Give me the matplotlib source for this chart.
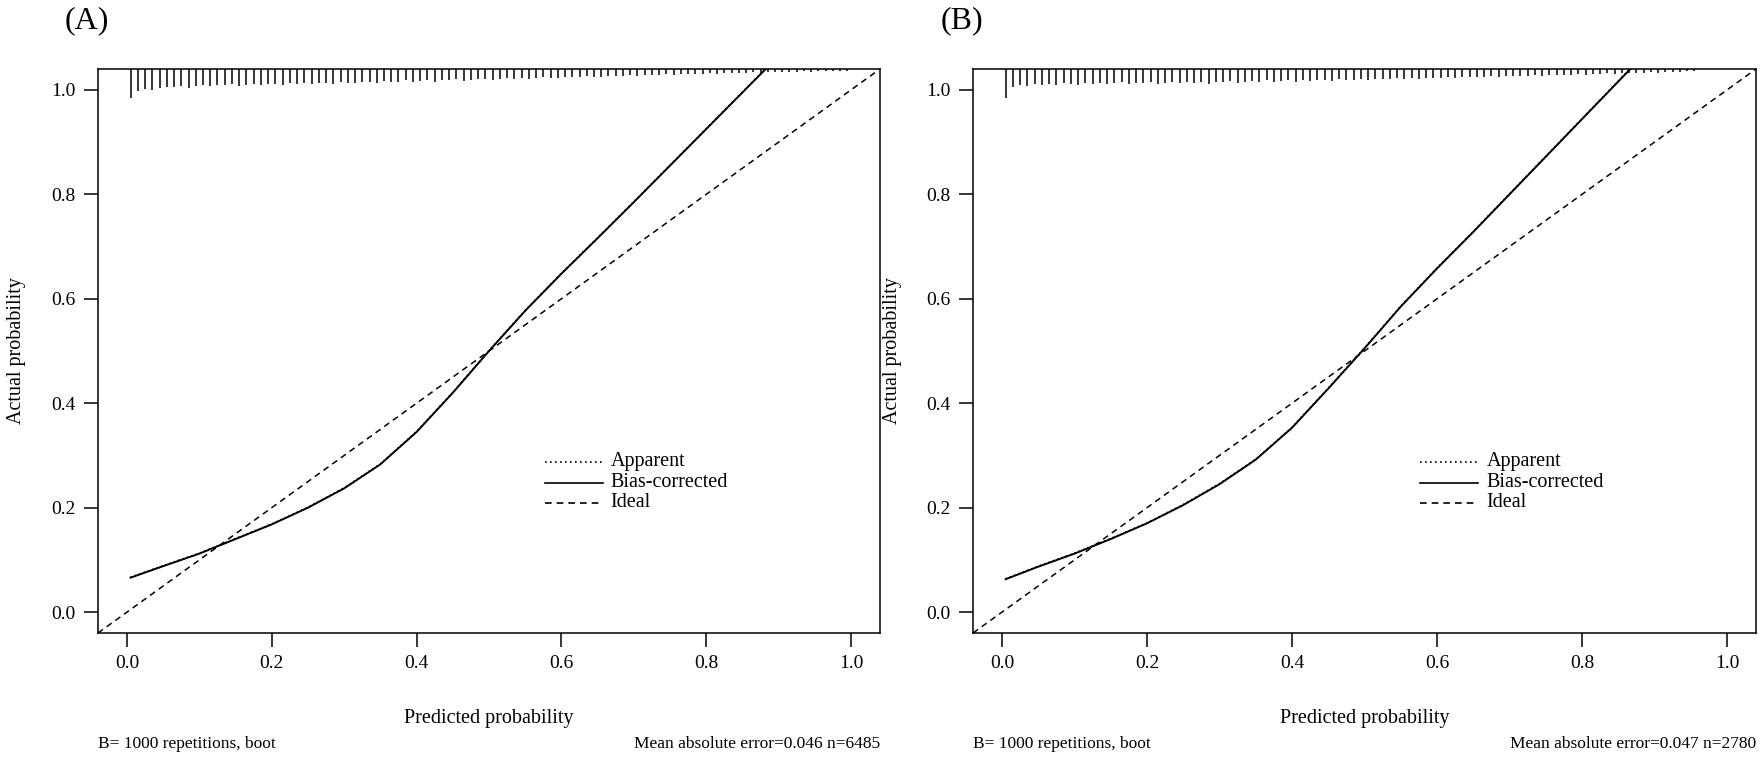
import matplotlib
matplotlib.use("Agg")
import matplotlib.pyplot as plt

plt.rcParams['font.family'] = ['Liberation Serif', 'DejaVu Serif']

# ---------------- data ----------------
ticks = [0.0, 0.2, 0.4, 0.6, 0.8, 1.0]
tick_labels = ["0.0", "0.2", "0.4", "0.6", "0.8", "1.0"]

# Panel A
a_bias_x = [0.005, 0.05, 0.10, 0.15, 0.20, 0.25, 0.30, 0.35, 0.40, 0.45, 0.50, 0.55, 0.60, 0.65, 0.70, 0.75, 0.80, 0.85, 0.90]
a_bias_y = [0.066, 0.088, 0.112, 0.140, 0.168, 0.200, 0.237, 0.283, 0.345, 0.420, 0.500, 0.577, 0.648, 0.716, 0.785, 0.855, 0.925, 0.995, 1.065]
a_app_x = [0.005, 0.05, 0.10, 0.15, 0.20, 0.25, 0.30, 0.35, 0.40, 0.45, 0.50, 0.55, 0.60, 0.65, 0.70, 0.75, 0.80, 0.85, 0.90]
a_app_y = [0.067, 0.089, 0.113, 0.141, 0.169, 0.201, 0.238, 0.284, 0.346, 0.421, 0.501, 0.578, 0.649, 0.717, 0.786, 0.856, 0.926, 0.996, 1.066]

# Panel B
b_bias_x = [0.005, 0.05, 0.10, 0.15, 0.20, 0.25, 0.30, 0.35, 0.40, 0.45, 0.50, 0.55, 0.60, 0.65, 0.70, 0.75, 0.80, 0.85, 0.90]
b_bias_y = [0.063, 0.087, 0.112, 0.140, 0.170, 0.205, 0.245, 0.292, 0.353, 0.428, 0.505, 0.585, 0.658, 0.728, 0.800, 0.872, 0.944, 1.016, 1.088]
b_app_x = [0.005, 0.05, 0.10, 0.15, 0.20, 0.25, 0.30, 0.35, 0.40, 0.45, 0.50, 0.55, 0.60, 0.65, 0.70, 0.75, 0.80, 0.85, 0.90]
b_app_y = [0.064, 0.088, 0.113, 0.141, 0.171, 0.206, 0.246, 0.293, 0.354, 0.429, 0.506, 0.586, 0.659, 0.729, 0.801, 0.873, 0.945, 1.017, 1.089]

# rug (distribution of predicted probabilities) : positions and tick lengths
a_rug_x = [0.005, 0.015, 0.025, 0.035, 0.045, 0.055, 0.065, 0.075, 0.085, 0.095,
           0.105, 0.115, 0.125, 0.135, 0.145, 0.155, 0.165, 0.175, 0.185, 0.195,
           0.205, 0.215, 0.225, 0.235, 0.245, 0.255, 0.265, 0.275, 0.285, 0.295,
           0.305, 0.315, 0.325, 0.335, 0.345, 0.355, 0.365, 0.375, 0.385, 0.395,
           0.405, 0.415, 0.425, 0.435, 0.445, 0.455, 0.465, 0.475, 0.485, 0.495,
           0.505, 0.515, 0.525, 0.535, 0.545, 0.555, 0.565, 0.575, 0.585, 0.595,
           0.605, 0.615, 0.625, 0.635, 0.645, 0.655, 0.665, 0.675, 0.685, 0.695,
           0.705, 0.715, 0.725, 0.735, 0.745, 0.755, 0.765, 0.775, 0.785, 0.795,
           0.805, 0.815, 0.825, 0.835, 0.845, 0.855, 0.865, 0.875, 0.885, 0.895,
           0.905, 0.915, 0.925, 0.935, 0.945, 0.955, 0.965, 0.975, 0.985, 0.995]
a_rug_len = [0.055,
             0.042, 0.038, 0.040, 0.036, 0.034, 0.035, 0.033, 0.036, 0.032, 0.031,
             0.033, 0.030, 0.031, 0.029, 0.032, 0.030, 0.028, 0.030, 0.029, 0.028,
             0.030, 0.027, 0.028, 0.026, 0.029, 0.027, 0.026, 0.028, 0.025, 0.026,
             0.027, 0.025, 0.024, 0.026, 0.023, 0.025, 0.024, 0.022, 0.024, 0.023,
             0.022, 0.024, 0.021, 0.022, 0.020, 0.023, 0.021, 0.020, 0.019, 0.021,
             0.020, 0.018, 0.019, 0.017, 0.019, 0.018, 0.016, 0.017, 0.018, 0.016,
             0.015, 0.016, 0.014, 0.015, 0.016, 0.013, 0.014, 0.013, 0.012, 0.014,
             0.012, 0.011, 0.012, 0.010, 0.011, 0.010, 0.009, 0.010, 0.009, 0.008,
             0.009, 0.008, 0.007, 0.008, 0.007, 0.006, 0.007, 0.006, 0.005, 0.006,
             0.005, 0.005, 0.004, 0.005, 0.004, 0.004, 0.003, 0.004, 0.003]
b_rug_x = a_rug_x[:96]
b_rug_len = [0.055,
             0.034, 0.030, 0.032, 0.029, 0.031, 0.028, 0.030, 0.027, 0.029, 0.031,
             0.027, 0.028, 0.026, 0.029, 0.027, 0.025, 0.028, 0.026, 0.027, 0.025,
             0.029, 0.026, 0.025, 0.027, 0.024, 0.026, 0.025, 0.028, 0.024, 0.025,
             0.023, 0.026, 0.024, 0.023, 0.025, 0.022, 0.024, 0.023, 0.022, 0.024,
             0.021, 0.023, 0.022, 0.021, 0.023, 0.020, 0.022, 0.021, 0.020, 0.021,
             0.019, 0.020, 0.019, 0.018, 0.020, 0.018, 0.019, 0.017, 0.018, 0.017,
             0.016, 0.017, 0.016, 0.015, 0.016, 0.015, 0.014, 0.015, 0.014, 0.013,
             0.014, 0.013, 0.012, 0.013, 0.012, 0.011, 0.012, 0.011, 0.010, 0.011,
             0.010, 0.009, 0.008, 0.009, 0.008, 0.007, 0.008, 0.007, 0.006, 0.007,
             0.006, 0.005, 0.005, 0.004, 0.004]

panels = [
    dict(tag="(A)", bx=a_bias_x, by=a_bias_y, ax_=a_app_x, ay=a_app_y,
         rx=a_rug_x, rl=a_rug_len, mae="Mean absolute error=0.046 n=6485"),
    dict(tag="(B)", bx=b_bias_x, by=b_bias_y, ax_=b_app_x, ay=b_app_y,
         rx=b_rug_x, rl=b_rug_len, mae="Mean absolute error=0.047 n=2780"),
]

legend_names = ["Apparent", "Bias-corrected", "Ideal"]

# ---------------- figure ----------------
W, H = 1762, 757
fig = plt.figure(figsize=(W / 100, H / 100), dpi=100)
frames = [(98, 880), (973, 1756)]   # left / right pixel of each plot box
top_px, bot_px = 69, 633

FS = 14.5
for p, (l_px, r_px) in zip(panels, frames):
    ax = fig.add_axes([l_px / W, 1 - bot_px / H, (r_px - l_px) / W, (bot_px - top_px) / H])
    ax.set_xlim(-0.04, 1.04)
    ax.set_ylim(-0.04, 1.04)
    # ideal
    ax.axline((0, 0), (1, 1), color="black", lw=1.1, ls=(0, (4, 3)))
    # apparent
    ax.plot(p["ax_"], p["ay"], color="black", lw=1.1, ls=(0, (1, 2)))
    # bias corrected
    ax.plot(p["bx"], p["by"], color="black", lw=1.4, ls="-")
    # rug at top
    top = 1.04
    ax.vlines(p["rx"], [top - l for l in p["rl"]], top, color="black", lw=1.1)

    ax.set_xticks(ticks)
    ax.set_xticklabels(tick_labels)
    ax.set_yticks(ticks)
    ax.set_yticklabels(tick_labels)
    ax.tick_params(direction="out", length=10, width=1.1, labelsize=14, pad=6)
    for s in ax.spines.values():
        s.set_linewidth(1.1)

    # legend (drawn manually, R style)
    ly = [0.288, 0.248, 0.209]
    styles = [(0, (1, 2)), "-", (0, (4, 3))]
    for yy, st, nm in zip(ly, styles, legend_names):
        ax.plot([0.577, 0.657], [yy, yy], color="black", lw=1.2, ls=st)
        ax.text(0.668, yy, nm, fontsize=FS, va="center", ha="left")

    cx = (l_px + r_px) / 2 / W
    cy = 1 - (top_px + bot_px) / 2 / H
    fig.text(cx, 1 - 718 / H, "Predicted probability", fontsize=FS, ha="center", va="center")
    fig.text((l_px - 81) / W, cy, "Actual probability", fontsize=FS, ha="center",
             va="center", rotation=90)
    fig.text((l_px - 11) / W, 1 - 21 / H, p["tag"], fontsize=23, ha="center", va="center")
    fig.text(l_px / W, 1 - 744 / H, "B= 1000 repetitions, boot", fontsize=12.5, ha="left", va="center")
    fig.text(r_px / W, 1 - 744 / H, p["mae"], fontsize=12.5, ha="right", va="center")

fig.savefig("out.png", dpi=100)
